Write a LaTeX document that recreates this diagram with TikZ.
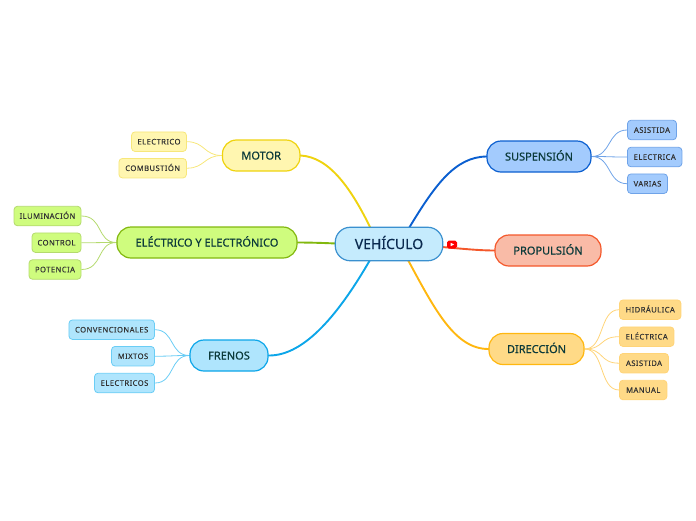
\documentclass[tikz,border=0pt]{standalone}
\usepackage{fontspec}
\setmainfont{Noto Sans}
\newfontfamily\centrefam[FakeBold=0.45]{Noto Sans}
\newfontfamily\mainfam[FakeBold=0.45]{Noto Sans}
\newfontfamily\smallfam[LetterSpace=6,FakeBold=0.15]{Noto Sans}
\usetikzlibrary{calc,backgrounds}
\definecolor{cText}{HTML}{0B3A3A}
\definecolor{cCtext}{HTML}{0A2A4F}
\definecolor{cSmall}{HTML}{333333}
\definecolor{yF}{HTML}{FFF6B0}\definecolor{yB}{HTML}{EFD30F}\definecolor{yL}{HTML}{F7E77A}
\definecolor{gF}{HTML}{CFFC7E}\definecolor{gB}{HTML}{82B80E}\definecolor{gL}{HTML}{B4DA6E}
\definecolor{lF}{HTML}{AFE5FD}\definecolor{lB}{HTML}{0CA6E9}\definecolor{lL}{HTML}{6ACDF5}
\definecolor{sF}{HTML}{A3CBFD}\definecolor{sB}{HTML}{0B5FD0}\definecolor{sL}{HTML}{6FA3E8}
\definecolor{pF}{HTML}{F9BBA7}\definecolor{pB}{HTML}{F4582B}
\definecolor{dF}{HTML}{FFDA87}\definecolor{dB}{HTML}{FFB70F}\definecolor{dL}{HTML}{FFD478}
\definecolor{cF}{HTML}{C5EBFD}\definecolor{cB}{HTML}{3A90CF}
\tikzset{
  x=1pt,y=-1pt,
  centre/.style={draw=cB,fill=cF,line width=1.2pt,rounded corners=15pt,inner sep=0pt,text height=10pt,text depth=0pt,text=cCtext,font=\centrefam\fontsize{14}{16}\selectfont},
  main/.style={line width=1.2pt,rounded corners=14pt,inner sep=0pt,text height=8pt,text depth=0pt,text=cText,font=\mainfam\fontsize{11}{13}\selectfont},
  leaf/.style={line width=.8pt,rounded corners=3.5pt,inner sep=0pt,text height=5.5pt,text depth=0pt,text=cSmall,font=\smallfam\fontsize{7.6}{9}\selectfont},
  branch/.style={line width=1.9pt,line cap=round},
  twig/.style={line width=.8pt},
  ymain/.style={main,draw=yB,fill=yF},gmain/.style={main,draw=gB,fill=gF},
  lmain/.style={main,draw=lB,fill=lF},smain/.style={main,draw=sB,fill=sF},
  pmain/.style={main,draw=pB,fill=pF},dmain/.style={main,draw=dB,fill=dF},
  yleaf/.style={leaf,draw=yL,fill=yF},gleaf/.style={leaf,draw=gL,fill=gF},
  lleaf/.style={leaf,draw=lL,fill=lF},sleaf/.style={leaf,draw=sL,fill=sF},
  dleaf/.style={leaf,draw=dL,fill=dF},
  box/.style args={#1/#2}{minimum width=#1pt,minimum height=#2pt},
}
\begin{document}
\begin{tikzpicture}
\useasboundingbox (0,0) rectangle (696,520);
% centre
\node[centre,box=107.5/33.5] (veh) at (389,244) {VEHÍCULO};
% main topics
\node[ymain,box=77.5/31] (motor) at (261.2,155.5) {MOTOR};
\node[gmain,box=180/31] (elec) at (207,242.5) {ELÉCTRICO Y ELECTRÓNICO};
\node[lmain,box=78/31] (fren) at (229,355.5) {FRENOS};
\node[smain,box=104/31] (susp) at (539,156.5) {SUSPENSIÓN};
\node[pmain,box=106/31] (prop) at (548,250.5) {PROPULSIÓN};
\node[dmain,box=95/31] (dir) at (536.5,349) {DIRECCIÓN};
% leaves
\node[yleaf,box=55/19.5] (m1) at (159,141.7) {ELECTRICO};
\node[yleaf,box=67.5/19.5] (m2) at (152.7,168.2) {COMBUSTIÓN};
\node[gleaf,box=67/19.5] (e1) at (47.5,216) {ILUMINACIÓN};
\node[gleaf,box=49/19.5] (e2) at (56.5,242.7) {CONTROL};
\node[gleaf,box=52/19.5] (e3) at (55,269.5) {POTENCIA};
\node[lleaf,box=85.5/19.5] (f1) at (111.7,329.7) {CONVENCIONALES};
\node[lleaf,box=43/19.5] (f2) at (133,356.2) {MIXTOS};
\node[lleaf,box=60/19.5] (f3) at (124.5,383) {ELECTRICOS};
\node[sleaf,box=49/19.5] (s1) at (652,130) {ASISTIDA};
\node[sleaf,box=54.5/19.5] (s2) at (654.7,157) {ELECTRICA};
\node[sleaf,box=40/19.5] (s3) at (647.5,183.7) {VARIAS};
\node[dleaf,box=61.5/19.5] (d1) at (650.2,309.7) {HIDRÁULICA};
\node[dleaf,box=54.5/19.5] (d2) at (646.7,336.7) {ELÉCTRICA};
\node[dleaf,box=49/19.5] (d3) at (644,363.2) {ASISTIDA};
\node[dleaf,box=47.5/19.5] (d4) at (643.2,390) {MANUAL};
% video icon
\node[fill=red,rounded corners=1.8pt,minimum width=10pt,minimum height=8pt,inner sep=0pt] (yt) at (452,244.5) {};
\fill[white] ($(yt.center)+(-1.3,-1.7)$) -- ($(yt.center)+(2,0)$) -- ($(yt.center)+(-1.3,1.7)$) -- cycle;
% connectors
\begin{scope}[on background layer]
\coordinate (vm) at (371,229);
\coordinate (ve) at (336,243.5);
\coordinate (vf) at (370,260);
\coordinate (vs) at (409,228);
\coordinate (vp) at (442,247);
\coordinate (vd) at (408,260);
\draw[branch,yB] (vm) .. controls (352,190) and (330,157) .. (motor.east);
\draw[branch,gB] (ve) .. controls (325,243) and (310,242.5) .. (elec.east);
\draw[branch,lB] (vf) .. controls (340,312) and (305,356) .. (fren.east);
\draw[branch,sB] (vs) .. controls (435,185) and (455,157) .. (susp.west);
\draw[branch,pB] (vp) .. controls (465,249) and (480,250.5) .. (prop.west);
\draw[branch,dB] (vd) .. controls (435,310) and (455,349) .. (dir.west);
\foreach \a in {m1,m2}
  \draw[twig,yL] (\a.east) .. controls +(18,0) and ($(motor.west)+(-18,0)$) .. (motor.west);
\foreach \a in {e1,e2,e3}
  \draw[twig,gL] (\a.east) .. controls +(22,0) and ($(elec.west)+(-20,0)$) .. (elec.west);
\foreach \a in {f1,f2,f3}
  \draw[twig,lL] (\a.east) .. controls +(20,0) and ($(fren.west)+(-20,0)$) .. (fren.west);
\foreach \a in {s1,s2,s3}
  \draw[twig,sL] (susp.east) .. controls +(20,0) and ($(\a.west)+(-20,0)$) .. (\a.west);
\foreach \a in {d1,d2,d3,d4}
  \draw[twig,dL] (dir.east) .. controls +(20,0) and ($(\a.west)+(-20,0)$) .. (\a.west);
\end{scope}
\end{tikzpicture}
\end{document}
